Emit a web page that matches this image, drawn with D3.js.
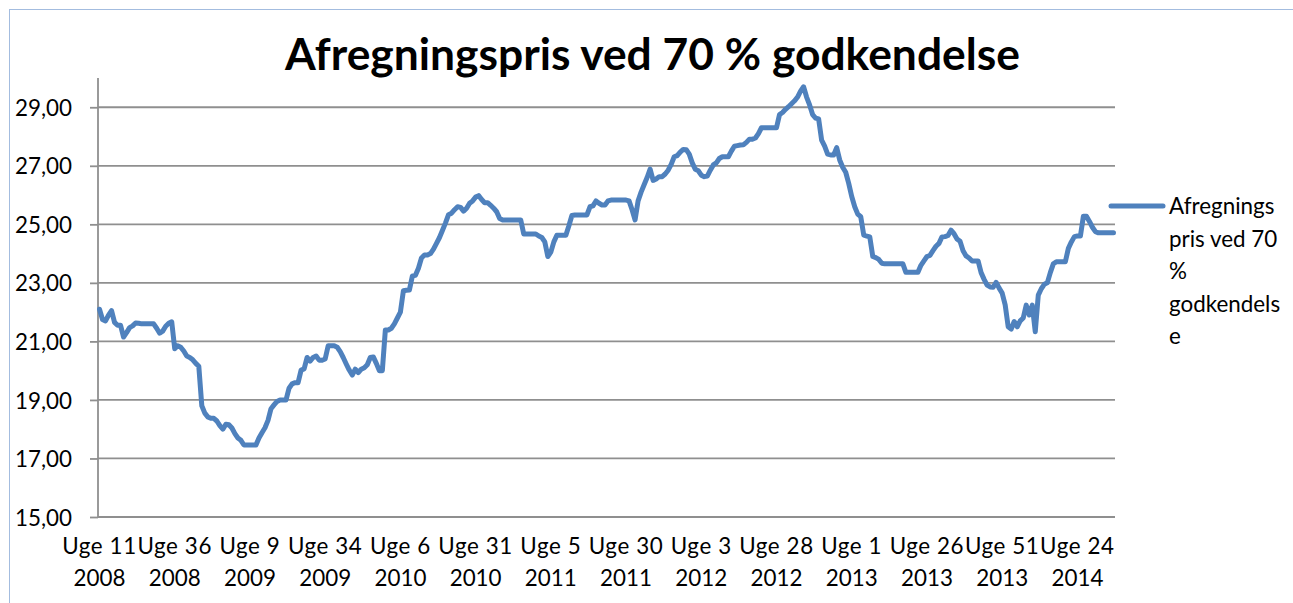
<!DOCTYPE html>
<html>
<head>
<meta charset="utf-8">
<script src="https://cdn.jsdelivr.net/npm/d3@7"></script>
<style>
  html, body { margin: 0; padding: 0; background: #fff; }
  svg { display: block; }
  text { font-family: Lato, "Open Sans", sans-serif; fill: #000; }
</style>
</head>
<body>
<svg id="chart" width="1293" height="603"></svg>
<script>
const title = "Afregningspris ved 70 % godkendelse";
const seriesName = "Afregningspris ved 70 % godkendelse";
const legendLines = ["Afregnings", "pris ved 70", "%", "godkendels", "e"];
const tickLabels = ["Uge 11 2008", "Uge 36 2008", "Uge 9 2009", "Uge 34 2009", "Uge 6 2010",
  "Uge 31 2010", "Uge 5 2011", "Uge 30 2011", "Uge 3 2012", "Uge 28 2012", "Uge 1 2013",
  "Uge 26 2013", "Uge 51 2013", "Uge 24 2014"];
const tickEvery = 25;
const yTicks = [15, 17, 19, 21, 23, 25, 27, 29];
const yDomain = [15, 30];
const values = [
  22.1, 21.75, 21.7, 21.9, 22.05, 21.65, 21.55, 21.55, 21.15, 21.3,
  21.47, 21.53, 21.63, 21.62, 21.6, 21.6, 21.6, 21.6, 21.6, 21.45,
  21.28, 21.35, 21.52, 21.62, 21.67, 20.75, 20.85, 20.8, 20.67, 20.5,
  20.45, 20.37, 20.25, 20.15, 18.8, 18.55, 18.42, 18.37, 18.37, 18.28,
  18.12, 18.0, 18.17, 18.15, 18.04, 17.85, 17.7, 17.62, 17.46, 17.46,
  17.46, 17.46, 17.46, 17.7, 17.88, 18.05, 18.3, 18.7, 18.83, 18.95,
  19.0, 19.0, 19.0, 19.4, 19.55, 19.59, 19.59, 20.02, 20.06, 20.45,
  20.33, 20.45, 20.5, 20.36, 20.36, 20.4, 20.85, 20.85, 20.85, 20.8,
  20.65, 20.45, 20.23, 20.02, 19.85, 20.05, 19.93, 20.05, 20.1, 20.2,
  20.45, 20.47, 20.25, 20.0, 20.0, 21.39, 21.39, 21.45, 21.6, 21.8,
  22.0, 22.73, 22.75, 22.76, 23.24, 23.26, 23.5, 23.85, 23.95, 23.95,
  24.0, 24.15, 24.35, 24.55, 24.8, 25.05, 25.33, 25.38, 25.5, 25.6,
  25.58, 25.45, 25.55, 25.72, 25.8, 25.93, 25.98, 25.85, 25.74, 25.74,
  25.65, 25.55, 25.43, 25.2, 25.15, 25.15, 25.15, 25.15, 25.15, 25.15,
  25.15, 24.67, 24.67, 24.67, 24.67, 24.67, 24.6, 24.55, 24.4, 23.9,
  24.05, 24.4, 24.63, 24.63, 24.63, 24.63, 24.95, 25.3, 25.32, 25.32,
  25.32, 25.32, 25.32, 25.6, 25.63, 25.8, 25.72, 25.66, 25.66, 25.8,
  25.83, 25.83, 25.83, 25.83, 25.83, 25.83, 25.8, 25.5, 25.15, 25.8,
  26.1, 26.35, 26.6, 26.89, 26.5, 26.55, 26.63, 26.63, 26.72, 26.85,
  27.05, 27.31, 27.35, 27.47, 27.56, 27.55, 27.4, 27.1, 26.88, 26.83,
  26.68, 26.63, 26.65, 26.85, 27.03, 27.1, 27.25, 27.31, 27.31, 27.31,
  27.5, 27.67, 27.69, 27.71, 27.72, 27.8, 27.91, 27.91, 27.95, 28.1,
  28.3, 28.3, 28.3, 28.3, 28.3, 28.3, 28.75, 28.82, 28.93, 29.02,
  29.12, 29.22, 29.35, 29.55, 29.7, 29.35, 29.08, 28.75, 28.63, 28.6,
  27.88, 27.67, 27.4, 27.37, 27.37, 27.62, 27.2, 26.95, 26.78, 26.4,
  25.95, 25.6, 25.35, 25.26, 24.63, 24.6, 24.57, 23.9, 23.86, 23.8,
  23.67, 23.65, 23.65, 23.65, 23.65, 23.65, 23.65, 23.65, 23.36, 23.36,
  23.36, 23.36, 23.36, 23.6, 23.75, 23.9, 23.94, 24.1, 24.25, 24.35,
  24.57, 24.58, 24.62, 24.8, 24.68, 24.5, 24.42, 24.1, 23.92, 23.85,
  23.75, 23.75, 23.75, 23.35, 23.12, 22.92, 22.86, 22.85, 23.02, 22.82,
  22.65, 22.25, 21.5, 21.42, 21.68, 21.5, 21.7, 21.8, 22.24, 21.9,
  22.24, 21.33, 22.58, 22.8, 22.95, 23.0, 23.35, 23.65, 23.72, 23.72,
  23.72, 23.72, 24.18, 24.4, 24.58, 24.6, 24.6, 25.28, 25.28, 25.1,
  24.9, 24.75, 24.71, 24.71, 24.71, 24.71, 24.71, 24.71
];
const categories = d3.range(values.length);

const svg = d3.select("#chart");
const gridColor = "#8f8f8f";
const lineColor = "#4F81BD";
const fontSize = 22.4;

// outer chart frame
svg.append("rect")
  .attr("x", 9.5).attr("y", 9.5).attr("width", 1400).attr("height", 800)
  .attr("fill", "none").attr("stroke", "#a3bcdf").attr("stroke-width", 1);

const plot = { left: 98, right: 1115, top: 78, bottom: 517 };
const x = d3.scaleBand().domain(categories).range([plot.left, plot.right]).padding(0);
const y = d3.scaleLinear().domain(yDomain).range([plot.bottom, plot.top]);
const cx = i => x(i) + x.bandwidth() / 2;

// gridlines
svg.append("g").selectAll("line")
  .data(yTicks.filter(t => t !== yDomain[0]))
  .join("line")
  .attr("x1", plot.left).attr("x2", plot.right)
  .attr("y1", d => y(d)).attr("y2", d => y(d))
  .attr("stroke", gridColor).attr("stroke-width", 1.8);

// y axis
const yAxis = svg.append("g")
  .attr("transform", `translate(${plot.left},0)`)
  .call(d3.axisLeft(y).tickValues(yTicks).tickSize(8).tickPadding(18)
    .tickFormat(d => d.toFixed(2).replace(".", ",")));
yAxis.select(".domain").attr("stroke", gridColor).attr("stroke-width", 1.8)
  .attr("d", `M0,${plot.bottom}V${plot.top}`);
yAxis.selectAll(".tick line").attr("stroke", gridColor).attr("stroke-width", 1.8);
yAxis.selectAll(".tick text")
  .attr("font-family", "Lato, sans-serif").attr("font-size", fontSize)
  .attr("dy", "0.36em").attr("fill", "#000");

// x axis
const xAxis = svg.append("g")
  .attr("transform", `translate(0,${plot.bottom})`)
  .call(d3.axisBottom(x).tickValues(categories.filter(i => i % tickEvery === 0)).tickSize(0)
    .tickFormat(i => tickLabels[i / tickEvery]));
xAxis.select(".domain").attr("stroke", gridColor).attr("stroke-width", 1.8)
  .attr("d", `M${plot.left},0H${plot.right}`);
xAxis.selectAll(".tick text").each(function(d) {
  const lab = tickLabels[d / tickEvery];
  const k = lab.lastIndexOf(" ");
  const t = d3.select(this).text(null)
    .attr("font-family", "Lato, sans-serif").attr("font-size", fontSize)
    .attr("fill", "#000").attr("y", 0).attr("dy", null);
  t.append("tspan").attr("x", 0).attr("y", 36.5).attr("letter-spacing", 0.6).text(lab.slice(0, k));
  t.append("tspan").attr("x", 0).attr("y", 69).text(lab.slice(k + 1));
});

// series line
const line = d3.line().x((d, i) => cx(i)).y(d => y(d));
svg.append("path")
  .datum(values)
  .attr("d", line)
  .attr("fill", "none")
  .attr("stroke", lineColor)
  .attr("stroke-width", 5)
  .attr("stroke-linejoin", "round")
  .attr("stroke-linecap", "round");

// title
const tt = svg.append("text")
  .attr("x", 652.5).attr("y", 69.5)
  .attr("text-anchor", "middle")
  .attr("font-weight", 700)
  .attr("font-size", 36)
  .text(title);
const w = tt.node().getComputedTextLength();
tt.attr("font-size", 36 * 735 / w);

// legend
const lg = svg.append("g").attr("class", "legend");
lg.append("line")
  .attr("x1", 1111).attr("x2", 1163).attr("y1", 206).attr("y2", 206)
  .attr("stroke", lineColor).attr("stroke-width", 5).attr("stroke-linecap", "round");
lg.append("text")
  .attr("font-size", fontSize)
  .selectAll("tspan")
  .data(legendLines)
  .join("tspan")
  .attr("x", 1169)
  .attr("y", (d, i) => 214.3 + i * 32.4)
  .text(d => d);
lg.append("title").text(seriesName);
</script>
</body>
</html>
